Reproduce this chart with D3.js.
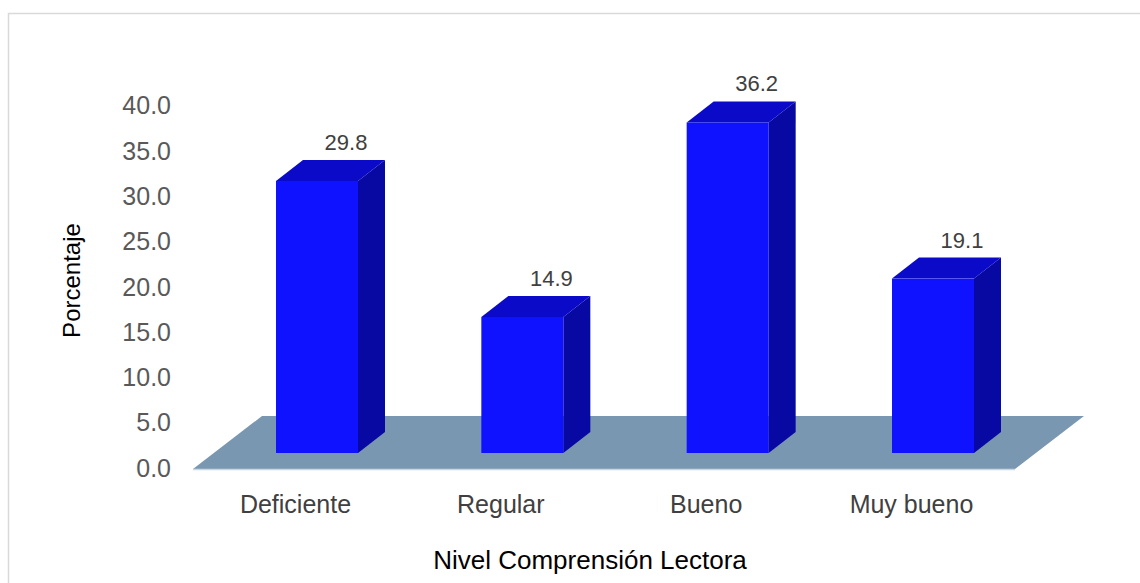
<!DOCTYPE html>
<html>
<head>
<meta charset="utf-8">
<script src="https://cdn.jsdelivr.net/npm/d3@7"></script>
<style>
  html, body { margin: 0; padding: 0; background: #fff; }
  svg { display: block; font-family: "Liberation Sans", Arial, sans-serif; }
</style>
</head>
<body>
<svg id="chart" width="1140" height="583"></svg>
<script>
// Nivel de comprensión lectora (%)
const categories = ["Deficiente", "Regular", "Bueno", "Muy bueno"];
const values = [29.8, 14.9, 36.2, 19.1];
const yTicks = [0, 5, 10, 15, 20, 25, 30, 35, 40];
const yTitle = "Porcentaje";
const xTitle = "Nivel Comprensión Lectora";

const W = 1140, H = 583;
const svg = d3.select("#chart");

// frame
svg.append("rect")
  .attr("x", 8.5).attr("y", 13.5)
  .attr("width", W + 20).attr("height", H + 20)
  .attr("fill", "none").attr("stroke", "#d9d9d9").attr("stroke-width", 1.5);

// 3D projection of depth
const depthX = 27, depthY = -21;          // bar depth
const floorDX = 69, floorDY = -53;       // floor depth

// scales
const x = d3.scalePoint().domain(categories).range([317, 933]);
const barW = 82;
const yBar = d3.scaleLinear().domain([0, 40]).range([453, 453 - 40 * 9.13]);
const yAxis = d3.scaleLinear().domain([0, 40]).range([468, 105.5]);

// floor
const floorFrontY = 469, floorLeft = 193, floorRight = 1015;
svg.append("path")
  .attr("d", `M${floorLeft},${floorFrontY} L${floorLeft + floorDX},${floorFrontY + floorDY} L${floorRight + floorDX},${floorFrontY + floorDY} L${floorRight},${floorFrontY} Z`)
  .attr("fill", "#7a97b1");
svg.append("line")
  .attr("x1", floorLeft).attr("x2", floorRight)
  .attr("y1", floorFrontY + 0.5).attr("y2", floorFrontY + 0.5)
  .attr("stroke", "#c9d6e3").attr("stroke-width", 1.5);

// bars
const bars = svg.append("g").selectAll("g.bar")
  .data(categories.map((c, i) => ({ c, v: values[i] })))
  .join("g").attr("class", "bar");

bars.each(function (d) {
  const g = d3.select(this);
  const x0 = x(d.c) - barW / 2, x1 = x0 + barW;
  const yb = yBar(0), yt = yBar(d.v);
  // side face
  g.append("path")
    .attr("d", `M${x1},${yb} L${x1 + depthX},${yb + depthY} L${x1 + depthX},${yt + depthY} L${x1},${yt} Z`)
    .attr("fill", "#0808a2");
  // top face
  g.append("path")
    .attr("d", `M${x0},${yt} L${x0 + depthX},${yt + depthY} L${x1 + depthX},${yt + depthY} L${x1},${yt} Z`)
    .attr("fill", "#0a0ac8");
  // front face
  g.append("rect")
    .attr("x", x0).attr("y", yt)
    .attr("width", barW).attr("height", yb - yt)
    .attr("fill", "#0f12ff");
  // value label
  g.append("text")
    .attr("x", x(d.c) + 29)
    .attr("y", yt + depthY - 10)
    .attr("text-anchor", "middle")
    .attr("font-size", 22)
    .attr("fill", "#404040")
    .text(d3.format(".1f")(d.v));
});

// y tick labels
svg.append("g").selectAll("text")
  .data(yTicks)
  .join("text")
  .attr("x", 171)
  .attr("y", d => yAxis(d))
  .attr("dy", "0.35em")
  .attr("text-anchor", "end")
  .attr("font-size", 25)
  .attr("fill", "#595959")
  .text(d => d3.format(".1f")(d));

// category labels
svg.append("g").selectAll("text")
  .data(categories)
  .join("text")
  .attr("x", d => x(d) - 21.5)
  .attr("y", 513)
  .attr("text-anchor", "middle")
  .attr("font-size", 25)
  .attr("fill", "#404040")
  .text(d => d);

// axis titles
svg.append("text")
  .attr("transform", "translate(80,280.5) rotate(-90)")
  .attr("text-anchor", "middle")
  .attr("font-size", 24)
  .attr("fill", "#000")
  .text(yTitle);

svg.append("text")
  .attr("x", 590).attr("y", 569)
  .attr("text-anchor", "middle")
  .attr("font-size", 26)
  .attr("fill", "#000")
  .text(xTitle);
</script>
</body>
</html>
